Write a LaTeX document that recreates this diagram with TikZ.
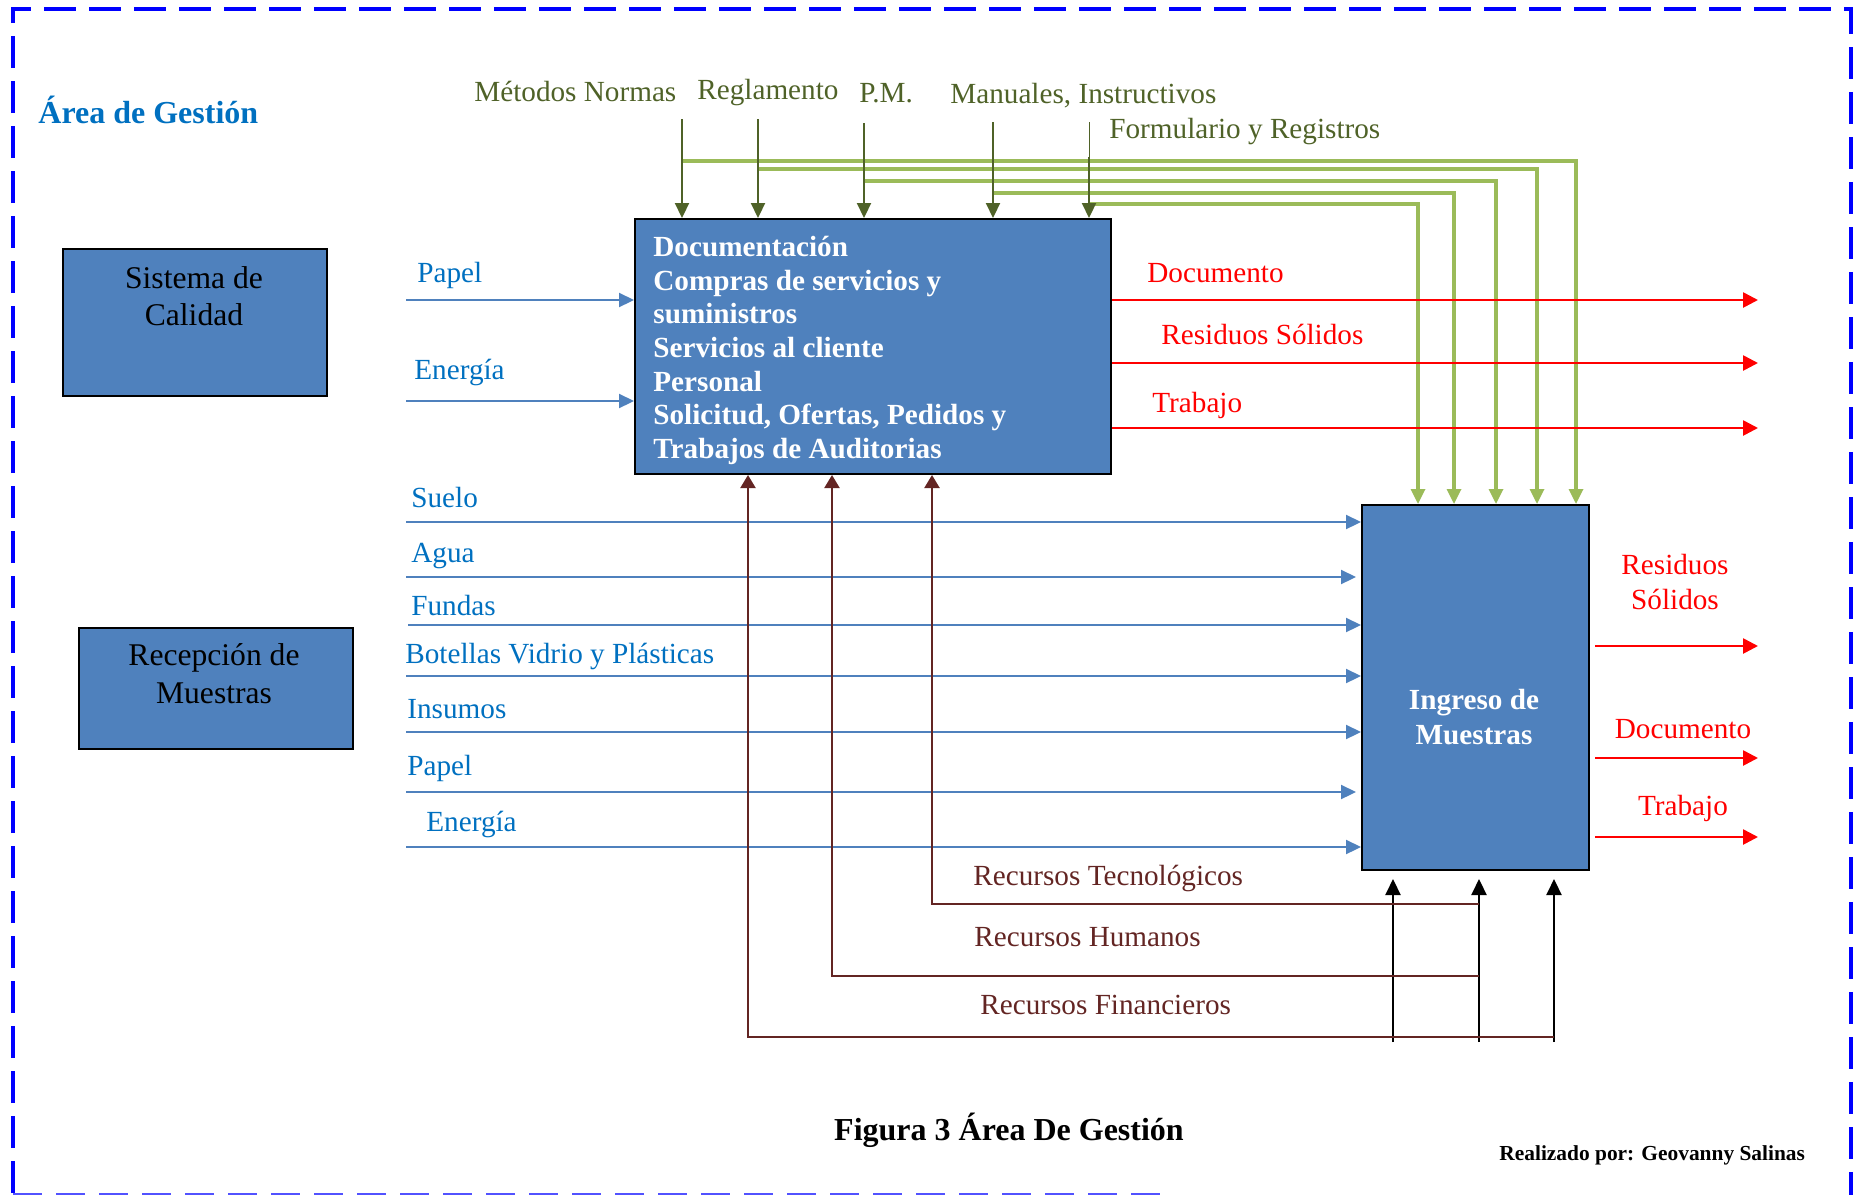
\documentclass[tikz,border=0pt]{standalone}
\usepackage{fontspec}
\setmainfont{Liberation Serif}
\usetikzlibrary{arrows.meta,calc}
\definecolor{boxblue}{HTML}{4F81BD}
\definecolor{lineblue}{HTML}{4F81BD}
\definecolor{txtblue}{HTML}{0070C0}
\definecolor{ctlgreen}{HTML}{4F6228}
\definecolor{feedgreen}{HTML}{9BBB59}
\definecolor{mechred}{HTML}{632523}
\definecolor{frameblue}{HTML}{0000FF}
\definecolor{framelight}{HTML}{5252FF}
\newcommand\setfs[2]{\fontsize{#1}{#2}\selectfont}
\tikzset{
  lbl/.style={inner sep=0pt, anchor=base west, font=\setfs{14.6}{17.5}},
  inlbl/.style={lbl, text=txtblue},
  outlbl/.style={lbl, text=red},
  ctllbl/.style={lbl, text=ctlgreen},
  mechlbl/.style={lbl, text=mechred},
  proc/.style={draw=black, line width=1pt, fill=boxblue, inner sep=0pt},
  boxtext/.style={inner sep=0pt, align=center},
  inarrow/.style={draw=lineblue, line width=1.1pt, -{Triangle[length=7.5pt,width=7pt]}},
  thinpart/.style={draw=lineblue, line width=0.6pt},
  outarrow/.style={draw=red, line width=1.3pt, -{Triangle[length=7.5pt,width=7.5pt]}},
  ctlarrow/.style={draw=ctlgreen, line width=1.1pt, -{Triangle[length=7.5pt,width=7pt]}},
  feedarrow/.style={draw=feedgreen, line width=1.6pt, -{Triangle[length=7.5pt,width=7pt]}},
  mecharrow/.style={draw=mechred, line width=1.1pt, -{Triangle[length=6.5pt,width=7.5pt]}},
  supparrow/.style={draw=black, line width=1.1pt, -{Triangle[length=8pt,width=7.5pt]}},
  frameline/.style={draw=frameblue, line width=2pt, dash pattern=on 16pt off 6.5pt},
  framebottom/.style={draw=framelight, line width=1pt, dash pattern=on 14.5pt off 7pt},
}
\begin{document}
\begin{tikzpicture}[x=0.5pt,y=-0.5pt]
\useasboundingbox (0,0) rectangle (1854,1195);

% outer dashed frame
\draw[frameline] (13,1193) -- (13,9) -- (1851,9) -- (1851,1195);
\draw[framebottom] (13,1194) -- (1163,1194);

% title
\node[inner sep=0pt, anchor=base west, text=txtblue, font=\bfseries\setfs{16}{19}] (title) at (38,123) {Área de Gestión};

% side boxes
\node[proc, anchor=north west, minimum width=132.25pt, minimum height=73.5pt] (sc) at (61.5,248) {};
\node[boxtext, font=\setfs{15.8}{18.25}] (sctext) at (194,296) {Sistema de\\Calidad};
\node[proc, anchor=north west, minimum width=137pt, minimum height=60.5pt] (rm) at (78,627) {};
\node[boxtext, font=\setfs{15.8}{19}] (rmtext) at (214,674) {Recepción de\\Muestras};

% process boxes
\node[proc, anchor=north west, minimum width=238pt, minimum height=127.5pt] (doc) at (634,218) {};
\node[anchor=north west, inner sep=0pt, align=left, text=white, font=\bfseries\setfs{14.6}{16.8}] (doctext) at (653,236)
  {Documentación\\Compras de servicios y\\suministros\\Servicios al cliente\\Personal\\Solicitud, Ofertas, Pedidos y\\Trabajos de Auditorias};
\node[proc, anchor=north west, minimum width=113.5pt, minimum height=182.5pt] (ing) at (1361,504) {};
\node[boxtext, text=white, font=\bfseries\setfs{14.6}{17.5}] (ingtext) at (1474,717.5) {Ingreso de\\Muestras};

% control labels
\node[ctllbl] (lMet) at (474,101.5) {Métodos Normas};
\node[ctllbl] (lReg) at (697,99.5) {Reglamento};
\node[ctllbl] (lPM) at (859,102) {P.M.};
\node[ctllbl] (lMan) at (950,103) {Manuales, Instructivos};
\node[ctllbl] (lFor) at (1109,138) {Formulario y Registros};

% control sources and their branch points
\coordinate (cMet) at (682,119);
\coordinate (cReg) at (758,119);
\coordinate (cPM) at (864,123);
\coordinate (cMan) at (993,122);
\coordinate (cFor0) at (1089,122);
\coordinate (cFor) at (1089,157);
\coordinate (gMet) at (682,161);
\coordinate (gReg) at (758,169);
\coordinate (gPM) at (864,181);
\coordinate (gMan) at (993,193);
\coordinate (gFor) at (1089,204);
\coordinate (tMet) at ($(ing.north west)+(215,0)$);
\coordinate (tReg) at ($(ing.north west)+(176,0)$);
\coordinate (tPM) at ($(ing.north west)+(135,0)$);
\coordinate (tMan) at ($(ing.north west)+(93,0)$);
\coordinate (tFor) at ($(ing.north west)+(57,0)$);

% controls passed on to the second process
\draw[feedarrow] (gMet) -| (tMet);
\draw[feedarrow] (gReg) -| (tReg);
\draw[feedarrow] (gPM) -| (tPM);
\draw[feedarrow] (gMan) -| (tMan);
\draw[feedarrow] (gFor) -| (tFor);

% controls into the first process
\draw[ctlarrow] (cMet) -- (cMet |- doc.north);
\draw[ctlarrow] (cReg) -- (cReg |- doc.north);
\draw[ctlarrow] (cPM) -- (cPM |- doc.north);
\draw[ctlarrow] (cMan) -- (cMan |- doc.north);
\draw[draw=ctlgreen, line width=0.5pt] (cFor0) -- (cFor);
\draw[ctlarrow] (cFor) -- (cFor |- doc.north);

% inputs of the first process
\node[inlbl] (lPap1) at (417,282.5) {Papel};
\node[inlbl] (lEne1) at (414,379.5) {Energía};
\coordinate (iPap1) at (406,300);
\coordinate (iEne1) at (406,401);
\draw[inarrow] (iPap1) -- (iPap1 -| doc.west);
\draw[inarrow] (iEne1) -- (iEne1 -| doc.west);

% outputs of the first process
\node[outlbl] (oDoc1) at (1147,282.5) {Documento};
\node[outlbl] (oRes1) at (1161,344) {Residuos Sólidos};
\node[outlbl] (oTra1) at (1152,412.5) {Trabajo};
\coordinate (eDoc1) at (1758,300);
\coordinate (eRes1) at (1758,363);
\coordinate (eTra1) at (1758,428);
\draw[outarrow] (eDoc1 -| doc.east) -- (eDoc1);
\draw[outarrow] (eRes1 -| doc.east) -- (eRes1);
\draw[outarrow] (eTra1 -| doc.east) -- (eTra1);

% inputs of the second process
\node[inlbl] (lSue) at (411,507) {Suelo};
\node[inlbl] (lAgu) at (411,562.5) {Agua};
\node[inlbl] (lFun) at (411,615.5) {Fundas};
\node[inlbl] (lBot) at (405,663.5) {Botellas Vidrio y Plásticas};
\node[inlbl] (lIns) at (407,718) {Insumos};
\node[inlbl] (lPap2) at (407,775) {Papel};
\node[inlbl] (lEne2) at (426,831) {Energía};
\coordinate (iSue) at (406,522);
\coordinate (iAgu0) at (406,577);
\coordinate (iAgu) at (554,577);
\coordinate (iFun) at (408,625);
\coordinate (iBot) at (406,676);
\coordinate (iIns0) at (406,732);
\coordinate (iIns) at (558,732);
\coordinate (iPap2) at (406,792);
\coordinate (iEne2) at (406,847);
\draw[inarrow] (iSue) -- (iSue -| ing.west);
\draw[thinpart] (iAgu0) -- (iAgu);
\draw[inarrow] (iAgu) -- ($(iAgu -| ing.west)+(-5,0)$);
\draw[inarrow] (iFun) -- (iFun -| ing.west);
\draw[inarrow] (iBot) -- (iBot -| ing.west);
\draw[thinpart] (iIns0) -- (iIns);
\draw[inarrow] (iIns) -- (iIns -| ing.west);
\draw[inarrow] (iPap2) -- ($(iPap2 -| ing.west)+(-5,0)$);
\draw[inarrow] (iEne2) -- (iEne2 -| ing.west);

% outputs of the second process
\node[outlbl, anchor=north, align=center, font=\setfs{14.6}{17.5}] (oRes2) at (1675,554) {Residuos\\Sólidos};
\node[outlbl, anchor=base] (oDoc2) at (1683,738) {Documento};
\node[outlbl, anchor=base] (oTra2) at (1683,815) {Trabajo};
\coordinate (eRes2) at (1758,646);
\coordinate (eDoc2) at (1758,758);
\coordinate (eTra2) at (1758,837);
\draw[outarrow] ($(eRes2 -| ing.east)+(5,0)$) -- (eRes2);
\draw[outarrow] ($(eDoc2 -| ing.east)+(5,0)$) -- (eDoc2);
\draw[outarrow] ($(eTra2 -| ing.east)+(5,0)$) -- (eTra2);

% mechanisms: resources
\coordinate (sTec) at (1393,1042);
\coordinate (sHum) at (1479,1042);
\coordinate (sFin) at (1554,1042);
\draw[supparrow, shorten >=4pt] (sTec) -- (sTec |- ing.south);
\draw[supparrow, shorten >=4pt] (sHum) -- (sHum |- ing.south);
\draw[supparrow, shorten >=4pt] (sFin) -- (sFin |- ing.south);

\coordinate (rTec) at (1479,904);
\coordinate (kTec) at (932,904);
\coordinate (rHum) at (1479,976);
\coordinate (kHum) at (832,976);
\coordinate (rFin) at (1554,1037);
\coordinate (kFin) at (748,1037);
\draw[mecharrow] (rTec) -- (kTec) -- (kTec |- doc.south);
\draw[mecharrow] (rHum) -- (kHum) -- (kHum |- doc.south);
\draw[mecharrow] (rFin) -- (kFin) -- (kFin |- doc.south);

\node[mechlbl] (mTec) at (973,885) {Recursos Tecnológicos};
\node[mechlbl] (mHum) at (974,946) {Recursos Humanos};
\node[mechlbl] (mFin) at (980,1014) {Recursos Financieros};

% caption and author
\node[inner sep=0pt, anchor=base, font=\bfseries\setfs{16}{19}] (cap) at (1009,1140) {Figura 3 Área De Gestión};
\node[inner sep=0pt, anchor=base west, font=\bfseries\setfs{10.7}{13}] (auth) at (1499,1160) {Realizado por: Geovanny Salinas};
\end{tikzpicture}
\end{document}
